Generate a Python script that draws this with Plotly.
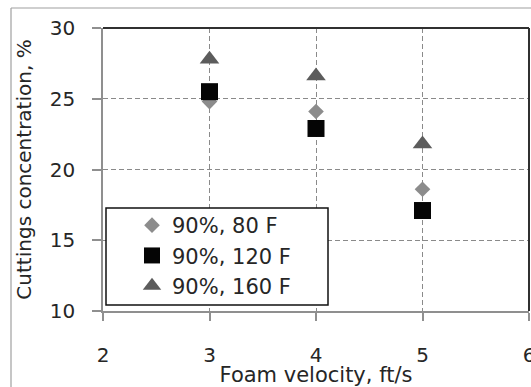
import plotly.graph_objects as go

# Foam velocity (ft/s) and cuttings concentration (%) at 90% foam quality
velocity = [3, 4, 5]
conc_80f = [24.8, 24.1, 18.6]
conc_120f = [25.5, 22.9, 17.1]
conc_160f = [27.8, 26.6, 21.8]

series_names = ["90%, 80 F", "90%, 120 F", "90%, 160 F"]
x_ticks = [2, 3, 4, 5, 6]
y_ticks = [10, 15, 20, 25, 30]

W, H = 531, 387
ML, MR, MT, MB = 103, 2, 28, 76
PW, PH = W - ML - MR, H - MT - MB


def px_x(px):
    return (px - ML) / PW


def px_y(py):
    return (H - MB - py) / PH


FONT = "DejaVu Sans"
TXT = "#262626"

fig = go.Figure()
fig.add_trace(go.Scatter(
    x=velocity, y=conc_80f, name=series_names[0], mode="markers",
    marker=dict(symbol="diamond", size=12, color="#8c8c8c", line=dict(width=0)),
))
fig.add_trace(go.Scatter(
    x=velocity, y=conc_120f, name=series_names[1], mode="markers",
    marker=dict(symbol="square", size=17, color="#050505", line=dict(width=0)),
))
fig.add_trace(go.Scatter(
    x=velocity, y=conc_160f, name=series_names[2], mode="markers",
    marker=dict(symbol="triangle-up", size=17, color="#5c5c5c", line=dict(width=0)),
))

grid = dict(showgrid=True, gridcolor="#8a8a8a", gridwidth=1.3, griddash="5px,3px")

fig.update_xaxes(
    range=[2, 6], tickvals=x_ticks, **grid,
    showline=True, linecolor="#8f8f8f", linewidth=1.5,
    ticks="outside", ticklen=8, tickcolor="#8f8f8f", tickwidth=1.5,
    ticklabelstandoff=17, ticklabeloverflow="allow",
    tickfont=dict(family=FONT, size=20, color=TXT),
    title=dict(text="Foam velocity, ft/s", font=dict(family=FONT, size=21, color=TXT), standoff=2),
    zeroline=False,
)
fig.update_yaxes(
    range=[10, 30], tickvals=y_ticks, **grid,
    showline=True, linecolor="#8f8f8f", linewidth=1.5,
    ticks="outside", ticklen=9, tickcolor="#8f8f8f", tickwidth=1.5,
    ticklabelstandoff=13,
    tickfont=dict(family=FONT, size=20, color=TXT),
    title=dict(text="Cuttings concentration, %", font=dict(family=FONT, size=20, color=TXT), standoff=13),
    zeroline=False,
)

shapes = [
    # plot-area frame, top and right edges
    dict(type="line", xref="paper", yref="paper", x0=0, x1=1, y0=1, y1=1,
         line=dict(color="#303030", width=2), layer="above"),
    dict(type="line", xref="paper", yref="paper", x0=1, x1=1, y0=0, y1=1,
         line=dict(color="#303030", width=2), layer="above"),
    # outer chart border
    dict(type="line", xref="paper", yref="paper", x0=px_x(11), x1=px_x(W + 5),
         y0=px_y(8), y1=px_y(8), line=dict(color="#a0a0a0", width=1.2)),
    dict(type="line", xref="paper", yref="paper", x0=px_x(11), x1=px_x(11),
         y0=px_y(8), y1=px_y(H + 5), line=dict(color="#a0a0a0", width=1.2)),
    # legend box (opaque, covers the gridlines behind the legend)
    dict(type="rect", xref="paper", yref="paper",
         x0=px_x(106), x1=px_x(328), y0=px_y(305), y1=px_y(208),
         fillcolor="white", line=dict(color="#111111", width=1.5), layer="above"),
]

fig.update_layout(
    width=W, height=H,
    margin=dict(l=ML, r=MR, t=MT, b=MB, autoexpand=False),
    paper_bgcolor="white", plot_bgcolor="white",
    showlegend=True,
    legend=dict(
        x=px_x(107), y=px_y(205), xanchor="left", yanchor="top",
        bgcolor="rgba(0,0,0,0)", borderwidth=0,
        font=dict(family=FONT, size=21, color=TXT),
        indentation=25,
    ),
    shapes=shapes,
    font=dict(family=FONT, color=TXT),
)

fig.write_html("out.html")
